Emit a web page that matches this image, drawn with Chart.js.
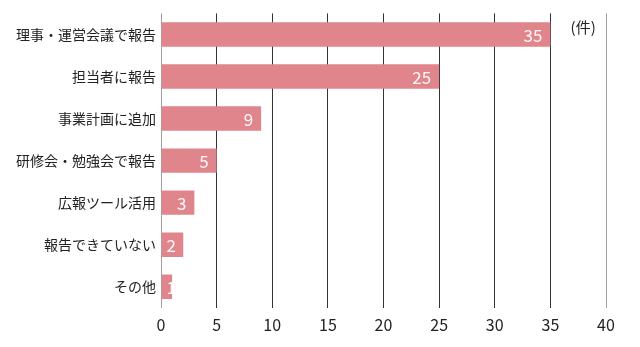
<!DOCTYPE html>
<html>
<head>
<meta charset="utf-8">
<script src="https://cdn.jsdelivr.net/npm/chart.js@4.4.0/dist/chart.umd.min.js"></script>
<style>
  html, body { margin: 0; padding: 0; background: #fff; }
  #wrap { position: relative; width: 640px; height: 347px; }
</style>
</head>
<body>
<div id="wrap"><canvas id="chart"></canvas></div>
<script>
const categories = ['理事・運営会議で報告', '担当者に報告', '事業計画に追加', '研修会・勉強会で報告', '広報ツール活用', '報告できていない', 'その他'];
const counts = [35, 25, 9, 5, 3, 2, 1];
const xTicks = [0, 5, 10, 15, 20, 25, 30, 35, 40];
const unitLabel = '(件)';

const FONT = '"Noto Sans CJK JP", "Noto Sans", sans-serif';

// white value labels at the end of each bar, plus the unit label
const valueLabels = {
    id: 'valueLabels',
    afterDatasetsDraw(chart) {
        const ctx = chart.ctx;
        const meta = chart.getDatasetMeta(0);
        const base = chart.scales.x.getPixelForValue(0);
        ctx.save();
        ctx.font = '17px ' + FONT;
        ctx.fillStyle = 'rgba(255,255,255,0.95)';
        ctx.textAlign = 'right';
        ctx.textBaseline = 'middle';
        meta.data.forEach((bar, i) => {
            const right = Math.max(bar.x - 8, base + 15);
            ctx.fillText(String(counts[i]), right, bar.y + 1);
        });
        ctx.fillStyle = '#222';
        ctx.font = '15px ' + FONT;
        ctx.textAlign = 'center';
        const xs = chart.scales.x;
        ctx.fillText(unitLabel, (xs.getPixelForValue(35) + xs.getPixelForValue(40)) / 2 + 5, meta.data[0].y - 7);
        ctx.restore();
    }
};

new Chart(document.getElementById('chart'), {
    type: 'bar',
    data: {
        labels: categories,
        datasets: [{
            data: counts,
            backgroundColor: '#e1858c',
            borderWidth: 0,
            barPercentage: 1,
            categoryPercentage: 0.58
        }]
    },
    options: {
        indexAxis: 'y',
        responsive: true,
        maintainAspectRatio: false,
        animation: false,
        layout: { padding: { top: 4, right: 34, bottom: 4, left: 0 } },
        plugins: { legend: { display: false }, tooltip: { enabled: false } },
        scales: {
            x: {
                min: 0,
                max: 40,
                afterBuildTicks(axis) { axis.ticks = xTicks.map(v => ({ value: v })); },
                border: { display: false },
                grid: {
                    drawTicks: false,
                    color: ctx => (ctx.index === 0 || ctx.index === xTicks.length - 1) ? '#a0a0a0' : '#333',
                    lineWidth: 1
                },
                ticks: { color: '#222', font: { family: FONT, size: 16 }, padding: 8 }
            },
            y: {
                border: { display: false },
                grid: { display: false, drawTicks: false },
                afterFit(axis) { axis.width = 161; },
                ticks: { color: '#222', font: { family: FONT, size: 14 }, padding: 5 }
            }
        }
    },
    plugins: [valueLabels]
});
</script>
</body>
</html>
